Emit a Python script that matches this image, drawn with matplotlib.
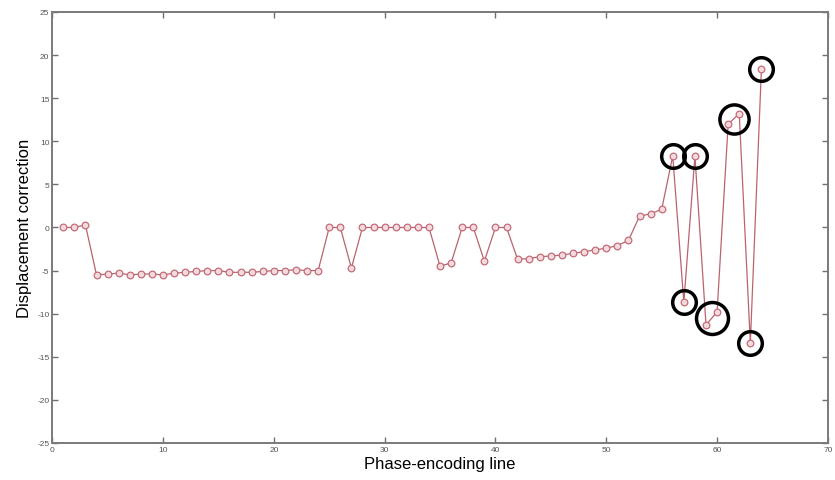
import matplotlib.pyplot as plt
import numpy as np

plt.rcParams['font.family'] = ['Liberation Sans', 'DejaVu Sans']
plt.rcParams['axes.unicode_minus'] = False

# displacement correction per phase-encoding line
lines = np.arange(1, 65)
correction = [
    0.0, 0.0, 0.3, -5.5, -5.4, -5.3, -5.5, -5.4, -5.4, -5.5,
    -5.3, -5.2, -5.1, -5.0, -5.0, -5.2, -5.2, -5.2, -5.1, -5.0,
    -5.0, -4.9, -5.0, -5.0, 0.0, 0.0, -4.7, 0.0, 0.0, 0.0,
    0.0, 0.0, 0.0, 0.0, -4.5, -4.1, 0.0, 0.0, -3.9, 0.0,
    0.0, -3.7, -3.6, -3.4, -3.3, -3.2, -3.0, -2.8, -2.6, -2.4,
    -2.1, -1.5, 1.3, 1.6, 2.1, 8.3, -8.7, 8.3, -11.3, -9.8,
    12.0, 13.2, -13.4, 18.4,
]

# groups of outlier lines that get a ring, with the ring size (pt)
outlier_groups = [[56], [57], [58], [59, 60], [61, 62], [63], [64]]
ring_sizes = [17, 17, 17, 23, 21, 17, 17]

fig = plt.figure(figsize=(8.35, 4.81), dpi=100)
ax = fig.add_axes([0.0625, 0.077, 0.929, 0.896])

ax.plot(lines, correction, '-', color='#b8646e', lw=0.9, zorder=2)
ax.plot(lines, correction, 'o', ms=4.8, mfc='#f2dade', mec='#c46c78',
        mew=0.9, zorder=3)

corr = np.array(correction)
for grp, size in zip(outlier_groups, ring_sizes):
    idx = np.array(grp) - 1
    cx = lines[idx].mean()
    cy = corr[idx].mean()
    ax.plot(cx, cy, 'o', ms=size, mfc='none', mec='black', mew=2.5, zorder=4)

ax.set_xlim(0, 70)
ax.set_ylim(-25, 25)
ax.set_xticks(np.arange(0, 71, 10))
ax.set_yticks(np.arange(-25, 26, 5))
ax.tick_params(direction='in', length=4, width=1, color='#707070',
               labelsize=6, labelcolor='#555555', top=True, right=True, pad=2)

for s in ax.spines.values():
    s.set_color('#7a7a7a')
    s.set_linewidth(1.4)

ax.set_xlabel('Phase-encoding line', fontsize=12, labelpad=2)
ax.set_ylabel('Displacement correction', fontsize=12, labelpad=4)

fig.savefig('out.png', dpi=100, facecolor='white')
